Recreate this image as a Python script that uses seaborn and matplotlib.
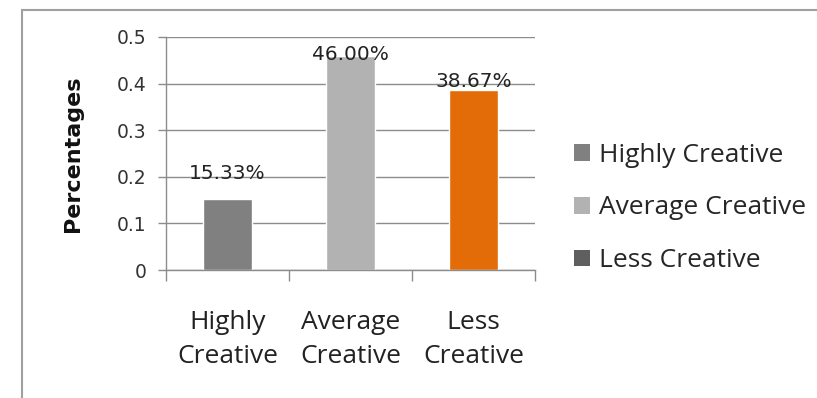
import matplotlib
matplotlib.use("Agg")
import matplotlib.pyplot as plt
import seaborn as sns
import pandas as pd
from matplotlib.patches import Patch
from matplotlib.lines import Line2D

categories = ["Highly Creative", "Average Creative", "Less Creative"]
tick_labels = ["Highly\nCreative", "Average\nCreative", "Less\nCreative"]
values = [0.1533, 0.46, 0.3867]
value_labels = ["15.33%", "46.00%", "38.67%"]
bar_colors = ["#808080", "#b2b2b2", "#e36c09"]
legend_colors = ["#808080", "#b2b2b2", "#5f5f5f"]
label_offsets_px = [25, 1, 8]

sns.set_theme(style="white")
plt.rcParams['font.family'] = ['DejaVu Sans']

fig = plt.figure(figsize=(8.17, 3.98), dpi=100)
ax = fig.add_axes([166/817, 1-270/398, (535-166)/817, (270-37)/398])

df = pd.DataFrame({"cat": categories, "val": values})
sns.barplot(data=df, x="cat", y="val", hue="cat", palette=bar_colors,
            width=0.4, dodge=False, legend=False, ax=ax, saturation=1)

ax.set_ylim(0, 0.5)
ax.set_xlim(-0.5, 2.5)
ax.set_yticks([0, 0.1, 0.2, 0.3, 0.4, 0.5])
ax.set_yticklabels(["0", "0.1", "0.2", "0.3", "0.4", "0.5"], fontsize=13.5, color="#333333")
ax.yaxis.grid(True, color="#8c8c8c", linewidth=1)
ax.set_axisbelow(True)
for s in ["top", "right"]:
    ax.spines[s].set_visible(False)
for s in ["left", "bottom"]:
    ax.spines[s].set_color("#8c8c8c")
    ax.spines[s].set_linewidth(1)

ax.tick_params(axis="y", which="major", left=True, length=6, width=1, color="#8c8c8c", pad=8)
ax.set_xticks([-0.5, 0.5, 1.5, 2.5])
ax.set_xticklabels([])
ax.tick_params(axis="x", which="major", bottom=True, length=8, width=1, color="#8c8c8c")
ax.set_xticks([0, 1, 2], minor=True)
ax.set_xticklabels(tick_labels, minor=True, fontsize=19, family="Open Sans",
                   color="#222222", linespacing=1.45)
ax.tick_params(axis="x", which="minor", length=0, pad=29)

ax.set_xlabel("")
ax.set_ylabel("Percentages", fontsize=16, fontweight="bold", color="#111111", labelpad=24)

for i, (v, lab, off) in enumerate(zip(values, value_labels, label_offsets_px)):
    ax.annotate(lab, xy=(i, v), xytext=(0, off * 0.72), textcoords="offset points",
                ha="center", va="center", fontsize=14.5, color="#222222")

handles = [Patch(facecolor=c, edgecolor="none") for c in legend_colors]
fig.legend(handles, categories, loc="center left", bbox_to_anchor=(566/817, 1-208/398),
           frameon=False, prop={"family": "Open Sans", "size": 19}, handlelength=0.6,
           handleheight=0.6, handletextpad=0.35, labelspacing=1.05, borderaxespad=0,
           borderpad=0.3)

fig.add_artist(Line2D([22/817, 22/817], [0, 1-10/398], transform=fig.transFigure,
                      color="#a0a0a0", linewidth=1.5))
fig.add_artist(Line2D([22/817, 1], [1-10/398, 1-10/398], transform=fig.transFigure,
                      color="#a0a0a0", linewidth=1.5))

fig.savefig("out.png", dpi=100)
